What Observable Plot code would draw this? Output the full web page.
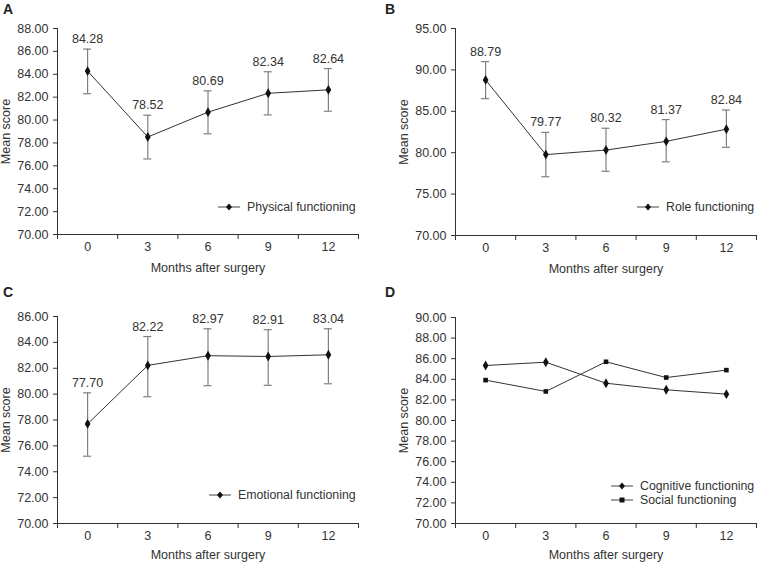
<!DOCTYPE html>
<html>
<head>
<meta charset="utf-8">
<script src="https://cdn.jsdelivr.net/npm/d3@7"></script>
<script src="https://cdn.jsdelivr.net/npm/@observablehq/plot@0.6"></script>
<style>
  html, body { margin: 0; padding: 0; background: #fff; }
  #root { position: relative; width: 757px; height: 563px; font-family: "Liberation Sans", Arial, sans-serif; color: #333; overflow: hidden; }
  .panel { position: absolute; }
  .letter { position: absolute; font-weight: bold; font-size: 14px; color: #222; }
  .legend { position: absolute; font-size: 12.3px; color: #333; line-height: 14px; white-space: nowrap; }
  .legend div { display: flex; align-items: center; height: 14px; white-space: nowrap; }
  .legend svg { margin-right: 7px; flex: none; }
</style>
</head>
<body>
<div id="root"></div>
<script>
// ---- data ----
const months = [0, 3, 6, 9, 12];
const xBounds = [-1.5, 1.5, 4.5, 7.5, 10.5, 13.5];

const physMean = [84.28, 78.52, 80.69, 82.34, 82.64];
const physLo   = [82.30, 76.60, 78.80, 80.45, 80.77];
const physHi   = [86.20, 80.42, 82.55, 84.22, 84.50];

const roleMean = [88.79, 79.77, 80.32, 81.37, 82.84];
const roleLo   = [86.53, 77.10, 77.75, 78.90, 80.65];
const roleHi   = [91.00, 82.45, 82.95, 84.00, 85.15];

const emoMean  = [77.70, 82.22, 82.97, 82.91, 83.04];
const emoLo    = [75.20, 79.80, 80.65, 80.68, 80.80];
const emoHi    = [80.10, 84.45, 85.05, 84.98, 85.05];

const cogMean  = [85.34, 85.66, 83.62, 82.98, 82.56];
const socMean  = [83.92, 82.82, 85.70, 84.17, 84.89];

const yTicksA = [70, 72, 74, 76, 78, 80, 82, 84, 86, 88];
const yTicksB = [70, 75, 80, 85, 90, 95];
const yTicksC = [70, 72, 74, 76, 78, 80, 82, 84, 86];
const yTicksD = [70, 72, 74, 76, 78, 80, 82, 84, 86, 88, 90];

// ---- helpers ----
const fmt = d3.format(".2f");
const LINE = "#333";
const ERR = "#808080";
const FS = 12.5;

function rows(mean, lo, hi) {
  return months.map((m, i) => ({m, v: mean[i], lo: lo ? lo[i] : null, hi: hi ? hi[i] : null}));
}

function makePanel(cfg) {
  const marks = [
    Plot.ruleX([xBounds[0]], {stroke: LINE}),
    Plot.ruleY([cfg.yTicks[0]], {stroke: LINE}),
    Plot.axisY(cfg.yTicks, {tickFormat: fmt, tickSize: 4, tickPadding: 5, stroke: LINE, fill: "#333",
      label: "Mean score", labelAnchor: "center", labelOffset: 56, labelArrow: "none"}),
    Plot.axisX(xBounds, {tickSize: 5, tickFormat: () => "", stroke: LINE, label: null}),
    Plot.axisX(months, {tickSize: 0, tickPadding: 8, fill: "#333",
      label: "Months after surgery", labelAnchor: "center", labelOffset: cfg.xlo, labelArrow: "none"})
  ];
  for (const s of cfg.series) {
    const data = rows(s.mean, s.lo, s.hi);
    if (s.lo) {
      marks.push(Plot.ruleX(data, {x: "m", y1: "lo", y2: "hi", stroke: ERR, strokeWidth: 1.2}));
      marks.push(Plot.ruleY(data, {y: "lo", x1: d => d.m - 0.2, x2: d => d.m + 0.2, stroke: ERR, strokeWidth: 1.2}));
      marks.push(Plot.ruleY(data, {y: "hi", x1: d => d.m - 0.2, x2: d => d.m + 0.2, stroke: ERR, strokeWidth: 1.2}));
      marks.push(Plot.text(data, {x: "m", y: "hi", text: d => fmt(d.v), dy: -10, fill: "#333", fontSize: FS}));
    }
    marks.push(Plot.line(data, {x: "m", y: "v", stroke: LINE, strokeWidth: 1}));
    marks.push(Plot.dot(data, {x: "m", y: "v", symbol: s.symbol, r: s.symbol === "square" ? 2.6 : 3, fill: "#111", stroke: "none"}));
  }
  return Plot.plot({
    width: cfg.width, height: cfg.height,
    marginLeft: cfg.ml, marginRight: cfg.mr, marginTop: cfg.mt, marginBottom: cfg.mb,
    x: {domain: [xBounds[0], xBounds[xBounds.length - 1]], axis: null},
    y: {domain: [cfg.yTicks[0], cfg.yTicks[cfg.yTicks.length - 1]], axis: null},
    style: {fontFamily: '"Liberation Sans", Arial, sans-serif', fontSize: FS + "px", color: "#333", background: "#fff", overflow: "visible"},
    marks
  });
}

function legendSymbol(symbol) {
  const shape = symbol === "square"
    ? '<rect x="8.5" y="4.5" width="5" height="5" fill="#111"/>'
    : '<path d="M11 3.6 L14 7 L11 10.4 L8 7 Z" fill="#111"/>';
  return '<svg width="22" height="14"><line x1="0" x2="22" y1="7" y2="7" stroke="#444" stroke-width="1"/>' + shape + '</svg>';
}

const panels = [
  {letter: "A", left: 0, top: 0, width: 378, height: 280, ml: 57, mr: 20, mt: 28, mb: 46, xlo: 37, yTicks: yTicksA,
   series: [{name: "Physical functioning", mean: physMean, lo: physLo, hi: physHi, symbol: "diamond"}],
   legend: {left: 218, top: 200}},
  {letter: "B", left: 378, top: 0, width: 379, height: 280, ml: 77, mr: 1, mt: 28, mb: 45, xlo: 37, yTicks: yTicksB,
   series: [{name: "Role functioning", mean: roleMean, lo: roleLo, hi: roleHi, symbol: "diamond"}],
   legend: {left: 259, top: 200}},
  {letter: "C", left: 0, top: 280, width: 378, height: 283, ml: 57, mr: 20, mt: 36, mb: 40, xlo: 35, yTicks: yTicksC,
   series: [{name: "Emotional functioning", mean: emoMean, lo: emoLo, hi: emoHi, symbol: "diamond"}],
   legend: {left: 209, top: 208}},
  {letter: "D", left: 378, top: 280, width: 379, height: 283, ml: 77, mr: 1, mt: 37, mb: 40, xlo: 35, yTicks: yTicksD,
   series: [{name: "Cognitive functioning", mean: cogMean, symbol: "diamond"},
            {name: "Social functioning", mean: socMean, symbol: "square"}],
   legend: {left: 233, top: 199}}
];

const root = document.getElementById("root");
for (const p of panels) {
  const div = document.createElement("div");
  div.className = "panel";
  div.style.left = p.left + "px";
  div.style.top = p.top + "px";
  div.appendChild(makePanel(p));
  root.appendChild(div);

  const letter = document.createElement("div");
  letter.className = "letter";
  letter.textContent = p.letter;
  letter.style.left = (p.left + (p.left ? 7 : 3)) + "px";
  letter.style.top = (p.top + (p.top ? 4 : 1)) + "px";
  root.appendChild(letter);

  const leg = document.createElement("div");
  leg.className = "legend";
  leg.style.left = (p.left + p.legend.left) + "px";
  leg.style.top = (p.top + p.legend.top) + "px";
  for (const s of p.series) {
    const row = document.createElement("div");
    row.innerHTML = legendSymbol(s.symbol) + "<span>" + s.name + "</span>";
    leg.appendChild(row);
  }
  root.appendChild(leg);
}
</script>
</body>
</html>
